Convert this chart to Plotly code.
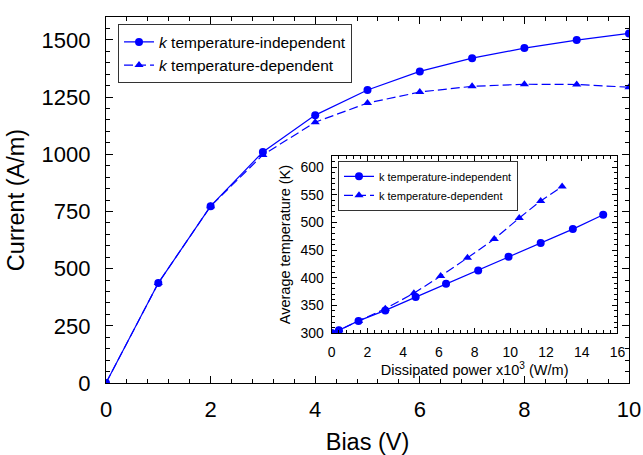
import plotly.graph_objects as go

bias = [0, 1, 2, 3, 4, 5, 6, 7, 8, 9, 10]
current_indep = [0, 437, 773, 1010, 1171, 1281, 1362, 1420, 1464, 1499, 1528]
current_dep = [0, 437, 773, 997, 1140, 1224, 1272, 1297, 1306, 1305, 1293]

power_indep = [0, 0.4, 1.5, 3.0, 4.7, 6.4, 8.2, 9.9, 11.7, 13.5, 15.2]
temp_indep = [300, 305, 322, 341, 365, 389, 413, 438, 463, 488, 514]
power_dep = [0, 0.4, 1.5, 3.0, 4.6, 6.1, 7.6, 9.1, 10.5, 11.7, 12.9]
temp_dep = [300, 305, 322, 344, 372, 403, 436, 470, 508, 539, 565]

label_indep = "temperature-independent"
label_dep = "temperature-dependent"

BLUE = "#0000ff"
FONT = "Liberation Sans, Arial, sans-serif"
DASH = "9px,4px"

fig = go.Figure()
fig.add_trace(go.Scatter(x=bias, y=current_indep, mode="lines+markers",
                         name="<i>k</i> " + label_indep,
                         line=dict(color=BLUE, width=1.2),
                         marker=dict(symbol="circle", size=8, color=BLUE),
                         xaxis="x", yaxis="y", legend="legend"))
fig.add_trace(go.Scatter(x=bias, y=current_dep, mode="lines+markers",
                         name="<i>k</i> " + label_dep,
                         line=dict(color=BLUE, width=1.2, dash=DASH),
                         marker=dict(symbol="triangle-up", size=8, color=BLUE),
                         xaxis="x", yaxis="y", legend="legend"))
fig.add_trace(go.Scatter(x=power_indep, y=temp_indep, mode="lines+markers",
                         name="k " + label_indep,
                         line=dict(color=BLUE, width=1.2),
                         marker=dict(symbol="circle", size=8, color=BLUE),
                         xaxis="x2", yaxis="y2", legend="legend2"))
fig.add_trace(go.Scatter(x=power_dep, y=temp_dep, mode="lines+markers",
                         name="k " + label_dep,
                         line=dict(color=BLUE, width=1.2, dash=DASH),
                         marker=dict(symbol="triangle-up", size=8, color=BLUE),
                         xaxis="x2", yaxis="y2", legend="legend2"))

axis_common = dict(showline=True, linecolor="black", linewidth=1.2, mirror="allticks",
                   ticks="inside", tickcolor="black", tickwidth=1.2, showgrid=False,
                   zeroline=False, automargin=False)

fig.update_layout(
    width=643, height=455,
    margin=dict(l=106, r=14, t=17, b=72),
    paper_bgcolor="white", plot_bgcolor="white",
    font=dict(family=FONT, color="black"),
    xaxis=dict(domain=[0, 1], range=[0, 10], dtick=2, tick0=0, ticklen=7,
               tickfont=dict(size=22), ticklabelstandoff=6,
               title=dict(text="Bias (V)", font=dict(size=23.5), standoff=14),
               minor=dict(dtick=0.4, ticks="inside", ticklen=4, tickcolor="black", tickwidth=1),
               anchor="y", **axis_common),
    yaxis=dict(domain=[0, 1], range=[0, 1600], dtick=250, tick0=0, ticklen=7,
               tickfont=dict(size=22), ticklabelstandoff=10,
               title=dict(text="Current (A/m)", font=dict(size=23.5), standoff=10),
               minor=dict(dtick=50, ticks="inside", ticklen=4, tickcolor="black", tickwidth=1),
               anchor="x", **axis_common),
    xaxis2=dict(domain=[0.4316, 0.978], range=[0, 16], dtick=2, tick0=0, ticklen=5,
                tickfont=dict(size=14), ticklabelstandoff=6,
                title=dict(text="Dissipated power x10<sup>3</sup> (W/m)", font=dict(size=14.5), standoff=2),
                minor=dict(dtick=0.4, ticks="inside", ticklen=3, tickcolor="black", tickwidth=1),
                anchor="y2", **axis_common),
    yaxis2=dict(domain=[0.1364, 0.620], range=[300, 620], dtick=50, tick0=300, ticklen=5,
                tickfont=dict(size=14), ticklabelstandoff=4,
                title=dict(text="Average temperature (K)", font=dict(size=14.5), standoff=6),
                minor=dict(dtick=10, ticks="inside", ticklen=3, tickcolor="black", tickwidth=1),
                anchor="x2", **axis_common),
    legend=dict(x=0.023, y=0.98, xanchor="left", yanchor="top",
                bgcolor="white", bordercolor="#333333", borderwidth=1,
                font=dict(size=15.5), tracegroupgap=0, itemwidth=30),
    legend2=dict(x=0.4436, y=0.607, xanchor="left", yanchor="top",
                 bgcolor="white", bordercolor="#333333", borderwidth=1,
                 font=dict(size=11), tracegroupgap=0, itemwidth=30),
)

fig.write_html("out.html", config={"displayModeBar": False},
               post_script="document.body.style.margin='0';document.body.style.overflow='hidden';")
